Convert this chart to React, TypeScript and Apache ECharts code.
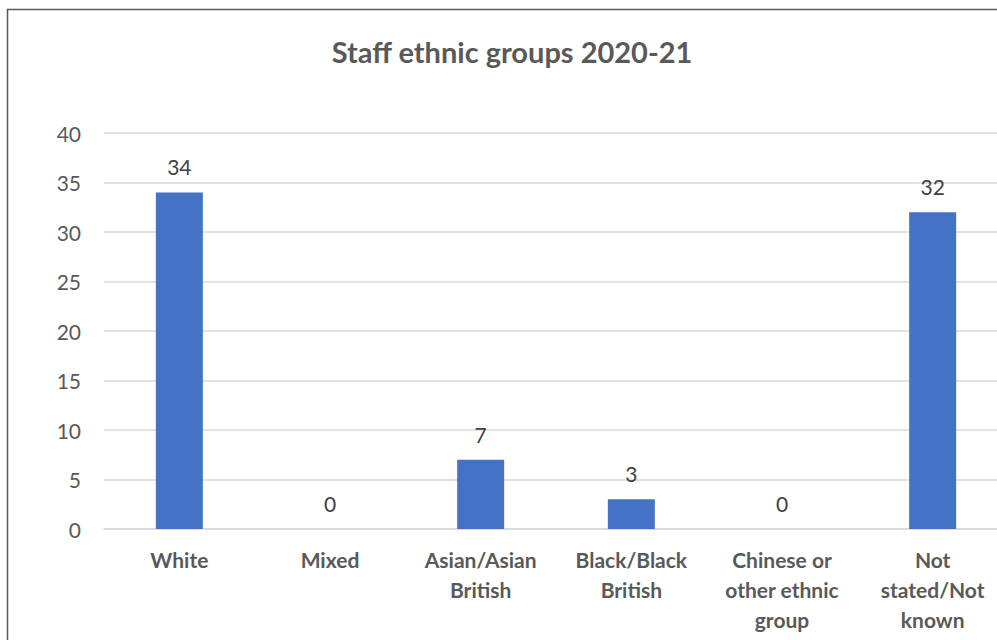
import React, { useEffect, useRef } from "react";
import * as echarts from "echarts";

const categories = [
  "White",
  "Mixed",
  "Asian/Asian\nBritish",
  "Black/Black\nBritish",
  "Chinese or\nother ethnic\ngroup",
  "Not\nstated/Not\nknown",
];
const staffCounts = [34, 0, 7, 3, 0, 32];
const titleText = "Staff ethnic groups 2020-21";

const FONT = "Lato, 'Open Sans', sans-serif";

export default function App() {
  const ref = useRef<HTMLDivElement>(null);
  useEffect(() => {
    if (!ref.current) return;
    const chart = echarts.init(ref.current, null, { renderer: "svg" });
    chart.setOption({
      animation: false,
      backgroundColor: "#ffffff",
      title: {
        text: titleText,
        left: 507,
        textAlign: "center",
        top: 32,
        textStyle: {
          fontFamily: FONT,
          fontSize: 29,
          fontWeight: "bold",
          color: "#595959",
        },
      },
      graphic: [
        {
          type: "rect",
          shape: { x: 7.5, y: 9.5, width: 1010, height: 640 },
          style: { fill: "none", stroke: "#595959", lineWidth: 1.5 },
          silent: true,
        },
      ],
      grid: { left: 104, top: 133, width: 904, height: 396, containLabel: false },
      xAxis: {
        type: "category",
        data: categories,
        axisLine: { show: true, lineStyle: { color: "#d9d9d9", width: 1.5 } },
        axisTick: { show: false },
        axisLabel: {
          interval: 0,
          margin: 15,
          fontFamily: FONT,
          fontSize: 21,
          fontWeight: "bold",
          lineHeight: 30,
          color: "#595959",
        },
      },
      yAxis: {
        type: "value",
        min: 0,
        max: 40,
        interval: 5,
        axisLine: { show: false },
        axisTick: { show: false },
        splitLine: { lineStyle: { color: "#d9d9d9", width: 1.5 } },
        axisLabel: {
          margin: 23,
          fontFamily: FONT,
          fontSize: 21,
          color: "#595959",
        },
      },
      series: [
        {
          type: "bar",
          data: staffCounts,
          barWidth: 47,
          itemStyle: { color: "#4472c4" },
          label: {
            show: true,
            position: "top",
            distance: 15,
            fontFamily: FONT,
            fontSize: 21,
            color: "#404040",
          },
        },
      ],
    });
    return () => chart.dispose();
  }, []);
  return (
    <div
      style={{
        position: "absolute",
        left: 0,
        top: 0,
        width: 997,
        height: 640,
        overflow: "hidden",
      }}
    >
      <div ref={ref} style={{ width: 1010, height: 640 }} />
    </div>
  );
}
